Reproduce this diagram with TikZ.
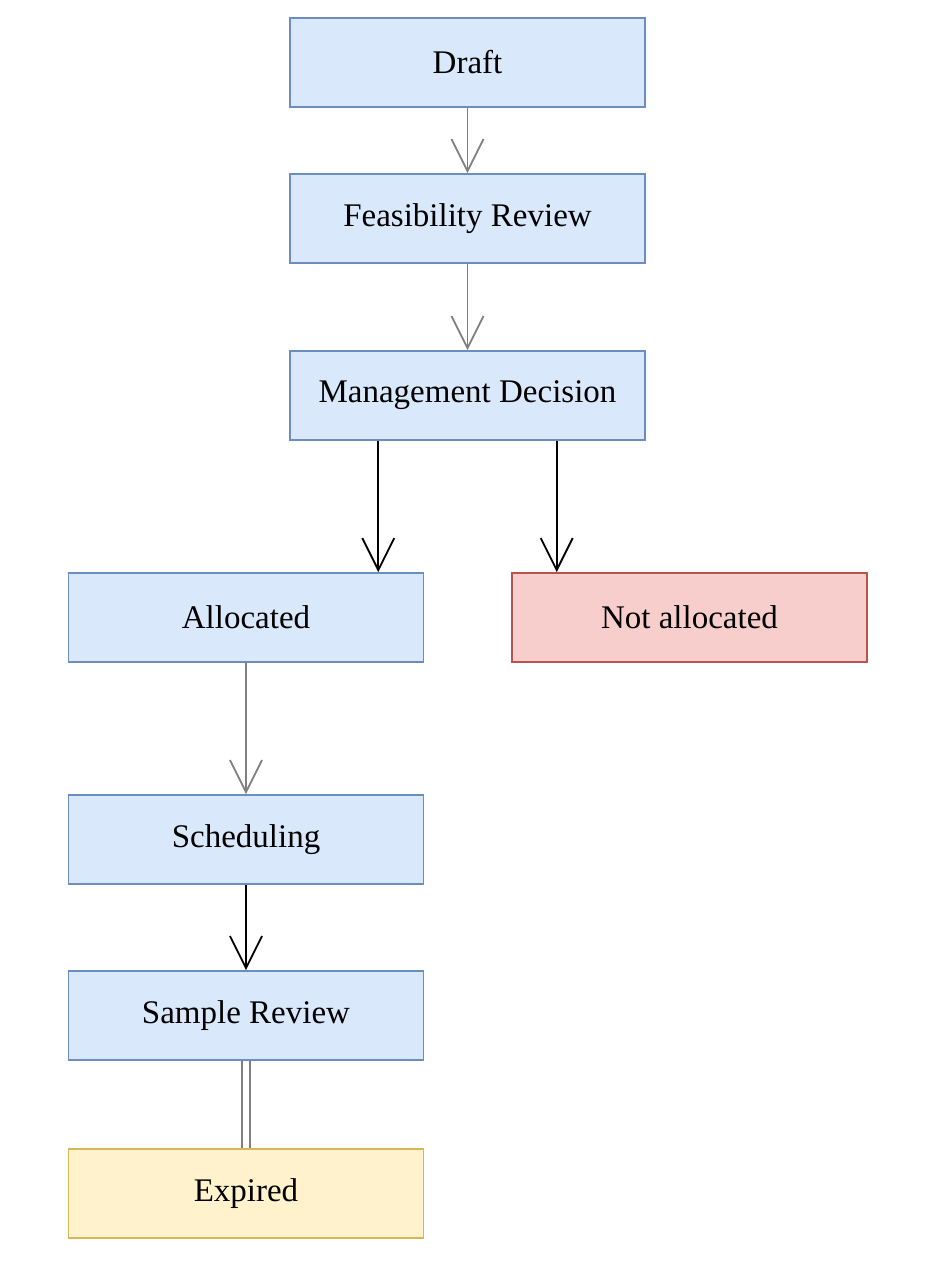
\documentclass[tikz,border=0pt]{standalone}
\usepackage{fontspec}
\setmainfont{Liberation Serif}
\usepackage{tikz}
\usetikzlibrary{arrows.meta,calc}
\definecolor{bluefill}{HTML}{dae8fc}
\definecolor{bluedraw}{HTML}{6c8ebf}
\definecolor{redfill}{HTML}{f8cecc}
\definecolor{reddraw}{HTML}{b85450}
\definecolor{yellowfill}{HTML}{fff2cc}
\definecolor{yellowdraw}{HTML}{d6b656}
\definecolor{greyline}{HTML}{7f7f7f}

\begin{document}
\begin{tikzpicture}[x=1pt,y=-1pt,
    state/.style={draw=bluedraw, fill=bluefill, line width=1.8pt, minimum width=355pt, minimum height=89pt, inner sep=0pt, font=\fontsize{33}{40}\selectfont},
    rejected/.style={state, draw=reddraw, fill=redfill},
    expiredbox/.style={state, draw=yellowdraw, fill=yellowfill},
    flow/.style={line width=1.8pt, -{Straight Barb[length=32pt, width=32pt, line width=1.8pt]}},
    greyflow/.style={flow, greyline},
    blackflow/.style={flow, black}]
    \useasboundingbox (0,0) rectangle (942,1270);
    \node[state] at(467.5,62.5)(draft){Draft};
    \node[state] at(467.5,218.5)(feas){Feasibility Review};
    \node[state] at(467.5,395.5)(mgmt){Management Decision};
    \draw[greyflow] (draft) -- (feas);
    \draw[greyflow] (feas) -- (mgmt);
    % 
    \node[state] at(246,617.5)(alloc){Allocated};
    \node[rejected] at(689.5,617.5)(notalloc){Not allocated};
    \coordinate (m1) at ($(mgmt.south west)!0.25!(mgmt.south east)$);
    \coordinate (m2) at ($(mgmt.south west)!0.75!(mgmt.south east)$);
    \draw[blackflow] (m1) -- (m1 |- alloc.north);
    \draw[blackflow] (m2) -- (m2 |- notalloc.north);
    % 
    \node[state] at(246,839.5)(sched){Scheduling};
    \node[state] at(246,1015.5)(sample){Sample Review};
    \node[expiredbox] at(246,1193.5)(expired){Expired};
    \draw[greyflow] (alloc) -- (sched);
    \draw[blackflow] (sched) -- (sample);
    \draw[greyline, line width=1.8pt, double, double distance=6pt] (sample) -- (expired);
\end{tikzpicture}
\end{document}
